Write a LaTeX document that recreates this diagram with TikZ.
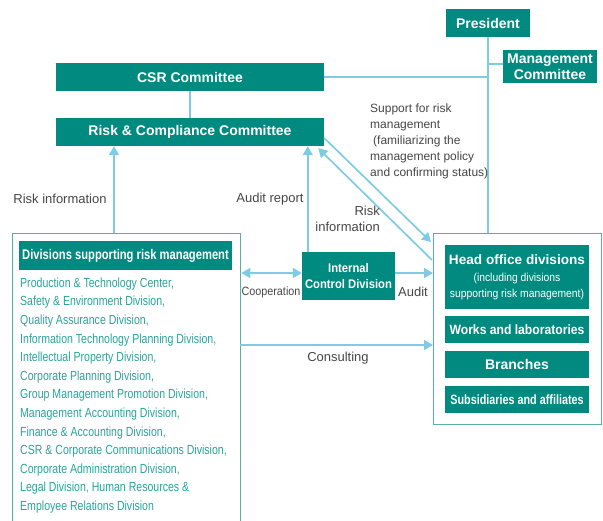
\documentclass[tikz,border=0pt]{standalone}
\usepackage{fontspec}
\setmainfont{Liberation Sans}
\newfontfamily\condfont[FakeStretch=0.9]{Liberation Sans}
\newfontfamily\narrowfont[FakeStretch=0.8]{Liberation Sans}
\usetikzlibrary{arrows.meta}
\definecolor{orgteal}{RGB}{0,138,128}
\definecolor{framecol}{RGB}{88,176,168}
\definecolor{linkblue}{RGB}{126,203,228}
\definecolor{divtext}{RGB}{40,165,155}
\definecolor{labelgray}{RGB}{70,70,70}
\newcommand{\fs}[2]{\fontsize{#1}{#2}\selectfont}

\begin{document}
\begin{tikzpicture}[x=1pt, y=-1pt,
  unit/.style={fill=orgteal, text=white, inner sep=0pt, align=center,
    font=\bfseries\fs{14}{16}},
  frame/.style={draw=framecol, line width=1.3pt, inner sep=0pt, anchor=north west},
  link/.style={draw=linkblue, line width=1.7pt},
  arr/.style={link, -{Triangle[width=10pt,length=9pt]}},
  twoway/.style={link, {Triangle[width=10pt,length=9pt]}-{Triangle[width=10pt,length=9pt]}},
  lbl/.style={text=labelgray, inner sep=0pt, font=\fs{13}{16}},
  divline/.style={text=divtext, inner sep=0pt, anchor=base west, font=\narrowfont\fs{13.2}{18}}]
  \useasboundingbox (0,0) rectangle (603,520);
  \clip (0,0) rectangle (603,520);

  % top management
  \node[unit, minimum width=84pt, minimum height=28pt] (pres) at (488,23) {President};
  \node[unit, minimum width=94pt, minimum height=33pt] (mgmt) at (550,66.5) {Management\\Committee};
  \node[unit, minimum width=268pt, minimum height=28pt] (csr) at (190,77) {CSR Committee};
  \node[unit, minimum width=268pt, minimum height=28pt] (rcc) at (190,132) {Risk \& Compliance Committee};

  % left frame with the supporting divisions
  \node[frame, minimum width=228pt, minimum height=300pt] (supp) at (12,233) {};
  \node[unit, font=\narrowfont\bfseries\fs{14}{16}, minimum width=213pt, minimum height=29pt]
    (divhead) at (125.5,255.5) {Divisions supporting risk management};
  \foreach \i/\t in {
    0/{Production \& Technology Center,},
    1/{Safety \& Environment Division,},
    2/{Quality Assurance Division,},
    3/{Information Technology Planning Division,},
    4/{Intellectual Property Division,},
    5/{Corporate Planning Division,},
    6/{Group Management Promotion Division,},
    7/{Management Accounting Division,},
    8/{Finance \& Accounting Division,},
    9/{CSR \& Corporate Communications Division,},
    10/{Corporate Administration Division,},
    11/{Legal Division, Human Resources \&},
    12/{Employee Relations Division}}
    \node[divline] (div\i) at (20,287.3+18.6*\i) {\t};

  % internal control
  \node[unit, font=\condfont\bfseries\fs{12.5}{16}, minimum width=93pt, minimum height=48pt]
    (icd) at (348.5,276) {Internal\\Control Division};

  % right frame
  \node[frame, minimum width=168pt, minimum height=191pt] (units) at (433,233) {};
  \node[unit, font=\bfseries\fs{13.6}{16}, minimum width=144pt, minimum height=64pt] (hod) at (517,277)
    {Head office divisions\\[1pt]
     \condfont\mdseries\fs{11.5}{18}(including divisions\\
     \condfont\mdseries\fs{11.5}{18}supporting risk management)};
  \node[unit, font=\condfont\bfseries\fs{13.5}{16}, minimum width=144pt, minimum height=27pt]
    (works) at (517,329.5) {Works and laboratories};
  \node[unit, minimum width=144pt, minimum height=27pt] (branch) at (517,364.5) {Branches};
  \node[unit, font=\narrowfont\bfseries\fs{13.5}{16}, minimum width=144pt, minimum height=27pt]
    (subs) at (517,399.5) {Subsidiaries and affiliates};

  % reporting lines
  \draw[link] (pres.south) -- (pres.south |- units.north);
  \draw[link] (csr.east) -- (pres.south |- csr.east);
  \draw[link] ([yshift=2.5pt]mgmt.west) -- ([yshift=2.5pt]pres.south |- mgmt.west);
  \draw[link] (csr.south) -- (rcc.north);

  \coordinate (rinfo) at (114,233);
  \coordinate (cons) at (240,345);
  \draw[arr] (rinfo) -- (rinfo |- rcc.south);
  \draw[arr] ([xshift=6pt]icd.north west) -- ([xshift=6pt]icd.north west |- rcc.south);
  \draw[arr] ([yshift=-6pt]rcc.east) -- ([xshift=-2pt,yshift=-9pt]units.north west);
  \draw[arr] ([xshift=-1pt,yshift=-27pt]units.north west) -- ([xshift=-6pt,yshift=-2pt]rcc.south east);
  \draw[twoway] ([yshift=3pt]icd.west -| supp.east) -- ([yshift=3pt]icd.west);
  \draw[arr] ([yshift=3pt]icd.east) -- ([yshift=3pt]icd.east -| units.west);
  \draw[arr] (cons) -- (cons -| units.west);

  % labels
  \node[lbl] (l1) at (60,199) {Risk information};
  \node[lbl] (l2) at (270,199) {Audit report};
  \node[lbl, align=right, anchor=north east] (l3) at (380,206) {Risk\\information};
  \node[lbl, font=\condfont\fs{12}{16}] (l4) at (271,292) {Cooperation};
  \node[lbl] (l5) at (413,292) {Audit};
  \node[lbl] (l6) at (338,358) {Consulting};
  \node[lbl, align=left, anchor=north west, font=\fs{12}{16}] (l7) at (370,104)
    {Support for risk\\management\\\hspace*{3pt}(familiarizing the\\management policy\\and confirming status)};
\end{tikzpicture}
\end{document}
